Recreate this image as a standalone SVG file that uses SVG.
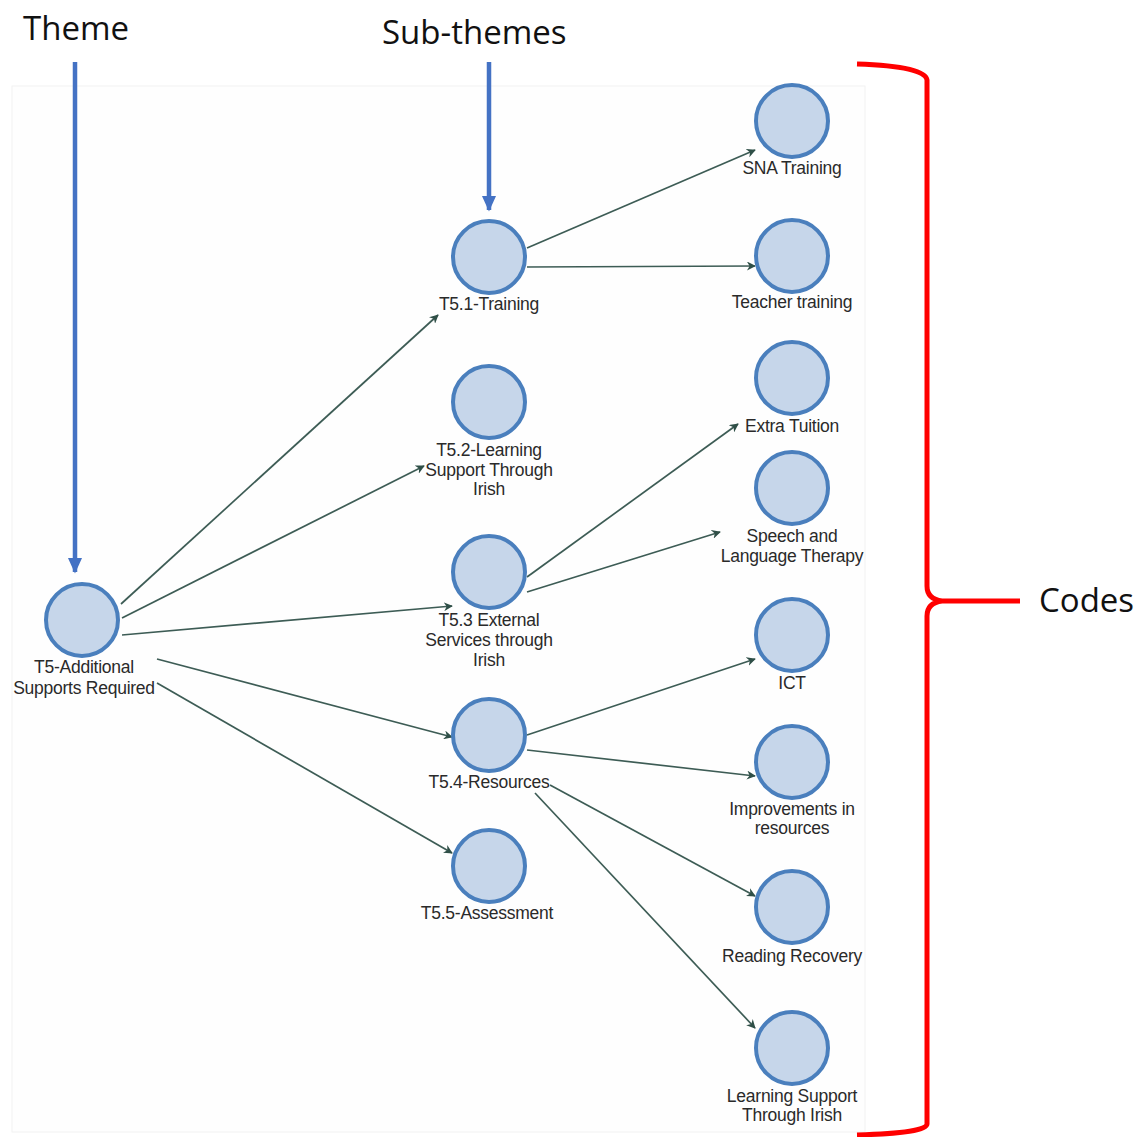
<svg xmlns="http://www.w3.org/2000/svg" width="1140" height="1137" viewBox="0 0 1140 1137">
<defs>
<style>
.node{fill:#c6d6ea;stroke:#4a7fbd;stroke-width:4}
.lbl{font-family:"Liberation Sans",Arial,sans-serif;font-size:17.5px;fill:#2a2a2a;text-anchor:middle;letter-spacing:-0.25px}
.edge{stroke:#3d5c55;stroke-width:1.7;fill:none;marker-end:url(#ah)}
.ann{font-family:"Open Sans","Liberation Sans",sans-serif;font-size:33px;fill:#111}
.blue{stroke:#4472c4;stroke-width:4.5;fill:none;marker-end:url(#bh)}
</style>
<marker id="ah" viewBox="0 0 10 10" refX="9" refY="5" markerWidth="9" markerHeight="9" markerUnits="userSpaceOnUse" orient="auto">
<path d="M0,0 L10,5 L0,10 L3,5 Z" fill="#2f4f47"/>
</marker>
<marker id="bh" viewBox="0 0 10 10" refX="9" refY="5" markerWidth="16" markerHeight="16" markerUnits="userSpaceOnUse" orient="auto">
<path d="M0,0.5 L10,5 L0,9.5 Z" fill="#4472c4"/>
</marker>
</defs>
<rect width="1140" height="1137" fill="#ffffff"/>
<rect x="12" y="86" width="853" height="1046" fill="#fefefe" stroke="#f2f2f2" stroke-width="1"/>

<g id="annotations">
<text class="ann" x="23" y="40">Theme</text>
<text class="ann" x="382" y="44">Sub-themes</text>
<text class="ann" x="1039" y="612">Codes</text>
<line class="blue" x1="75" y1="62" x2="75" y2="572"/>
<line class="blue" x1="489" y1="62" x2="489" y2="210"/>
<path d="M857,64 Q925,66 927,80 L927,586 Q927,599 942,601 L1020,601 M942,601 Q927,603 927,616 L927,1124 Q927,1133 857,1135" fill="none" stroke="#ff0000" stroke-width="5"/>
</g>

<g id="connectors">
<line class="edge" x1="121" y1="604" x2="438" y2="315"/>
<line class="edge" x1="122" y1="618" x2="424" y2="466"/>
<line class="edge" x1="122" y1="635" x2="452" y2="606"/>
<line class="edge" x1="157" y1="659" x2="452" y2="737"/>
<line class="edge" x1="157" y1="683" x2="452" y2="853"/>
<line class="edge" x1="527" y1="248" x2="755" y2="150"/>
<line class="edge" x1="527" y1="267" x2="755" y2="266"/>
<line class="edge" x1="527" y1="577" x2="738" y2="424"/>
<line class="edge" x1="527" y1="592" x2="720" y2="532"/>
<line class="edge" x1="527" y1="735" x2="755" y2="659"/>
<line class="edge" x1="527" y1="750" x2="755" y2="776"/>
<line class="edge" x1="550" y1="785" x2="755" y2="896"/>
<line class="edge" x1="535" y1="793" x2="755" y2="1028"/>
</g>

<g id="n-t5"><circle class="node" cx="82" cy="620" r="36"/><text class="lbl" x="84" y="673">T5-Additional</text><text class="lbl" x="84" y="694">Supports Required</text></g>
<g id="n-t51"><circle class="node" cx="489" cy="257" r="36"/><text class="lbl" x="489" y="310">T5.1-Training</text></g>
<g id="n-t52"><circle class="node" cx="489" cy="402" r="36"/><text class="lbl" x="489" y="456">T5.2-Learning</text><text class="lbl" x="489" y="476">Support Through</text><text class="lbl" x="489" y="495">Irish</text></g>
<g id="n-t53"><circle class="node" cx="489" cy="572" r="36"/><text class="lbl" x="489" y="626">T5.3 External</text><text class="lbl" x="489" y="646">Services through</text><text class="lbl" x="489" y="666">Irish</text></g>
<g id="n-t54"><circle class="node" cx="489" cy="735" r="36"/><text class="lbl" x="489" y="788">T5.4-Resources</text></g>
<g id="n-t55"><circle class="node" cx="489" cy="866" r="36"/><text class="lbl" x="487" y="919">T5.5-Assessment</text></g>
<g id="n-sna"><circle class="node" cx="792" cy="121" r="36"/><text class="lbl" x="792" y="174">SNA Training</text></g>
<g id="n-teacher"><circle class="node" cx="792" cy="256" r="36"/><text class="lbl" x="792" y="308">Teacher training</text></g>
<g id="n-extra"><circle class="node" cx="792" cy="378" r="36"/><text class="lbl" x="792" y="432">Extra Tuition</text></g>
<g id="n-speech"><circle class="node" cx="792" cy="488" r="36"/><text class="lbl" x="792" y="542">Speech and</text><text class="lbl" x="792" y="562">Language Therapy</text></g>
<g id="n-ict"><circle class="node" cx="792" cy="635" r="36"/><text class="lbl" x="792" y="689">ICT</text></g>
<g id="n-improve"><circle class="node" cx="792" cy="762" r="36"/><text class="lbl" x="792" y="815">Improvements in</text><text class="lbl" x="792" y="834">resources</text></g>
<g id="n-reading"><circle class="node" cx="792" cy="907" r="36"/><text class="lbl" x="792" y="962">Reading Recovery</text></g>
<g id="n-lsti"><circle class="node" cx="792" cy="1048" r="36"/><text class="lbl" x="792" y="1102">Learning Support</text><text class="lbl" x="792" y="1121">Through Irish</text></g>
</svg>
